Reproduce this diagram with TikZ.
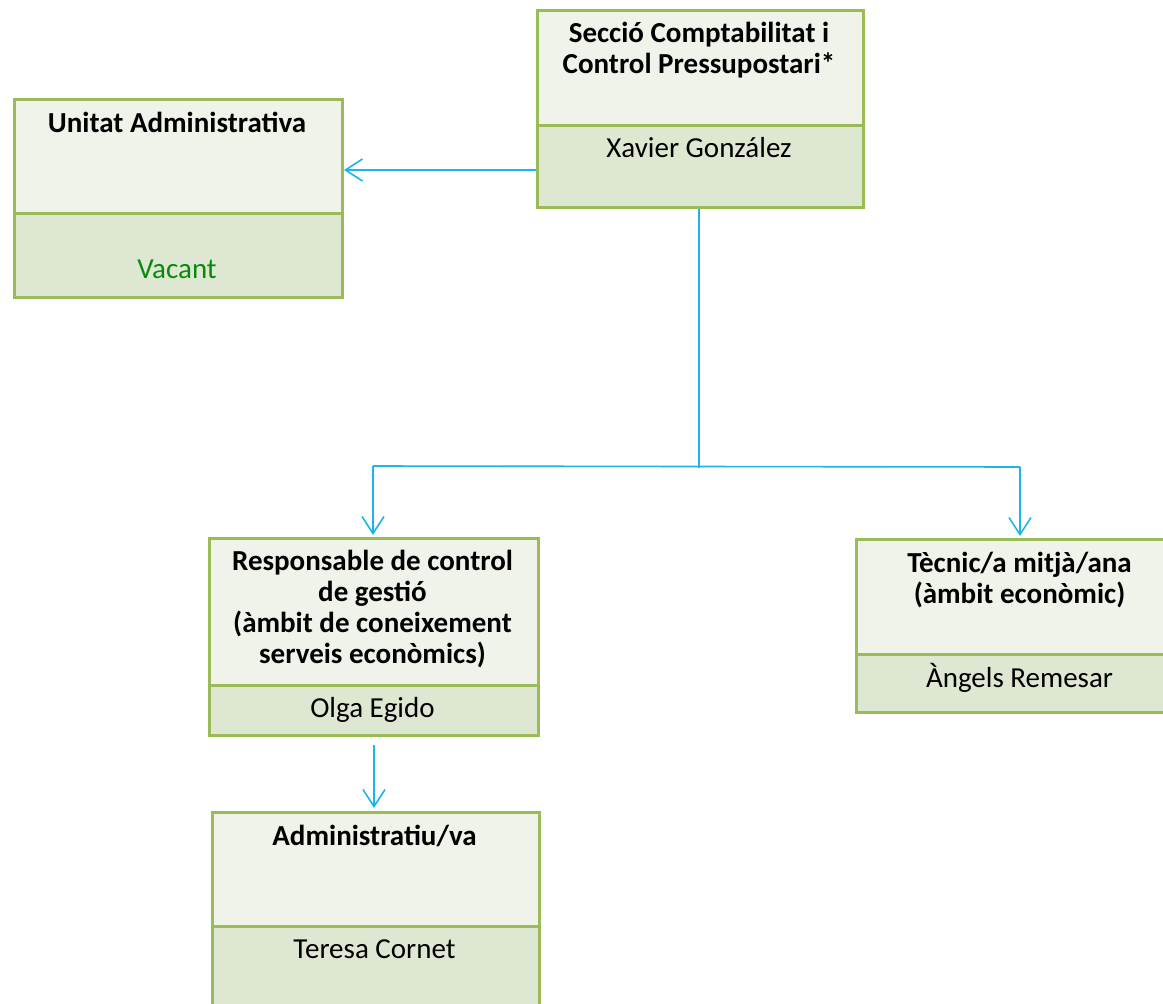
\documentclass[tikz,border=0pt]{standalone}
\usepackage{fontspec}
\setmainfont{Carlito}
\usetikzlibrary{arrows.meta}
\definecolor{boxline}{HTML}{9BBB59}
\definecolor{topfill}{HTML}{EFF3E9}
\definecolor{botfill}{HTML}{DDE7D1}
\definecolor{conn}{HTML}{1BB4F0}
\definecolor{vacgreen}{HTML}{0A8A0A}
\tikzset{
  boxpart/.style={draw=boxline, line width=3pt, inner sep=0pt, anchor=north west, minimum width=#1},
  toppart/.style={boxpart=#1, fill=topfill},
  botpart/.style={boxpart=#1, fill=botfill},
  titletext/.style={font=\fontsize{29}{30.5}\selectfont\bfseries, align=center, inner sep=0pt, anchor=base},
  persontext/.style={font=\fontsize{29}{31}\selectfont, inner sep=0pt, anchor=base},
  conline/.style={draw=conn, line width=1.6pt},
  conarrow/.style={conline, -{Straight Barb[length=17pt,width=22pt,line width=1.6pt]}}
}
\begin{document}
\begin{tikzpicture}[x=1pt,y=-1pt]
\useasboundingbox (0,0) rectangle (1163,1004);
\clip (0,0) rectangle (1163,1004);
% Box A
\node[botpart=326, minimum height=82] (Ab) at (536,124) {};
\node[toppart=326, minimum height=115] (A) at (536,9) {};
\node[titletext] (At) at (699,73) {Secció Comptabilitat i\\Control Pressupostari*};
\node[persontext] (An) at (699,157) {Xavier González};
% Box B
\node[botpart=328, minimum height=84] (Bb) at (13,212) {};
\node[toppart=328, minimum height=114] (B) at (13,98) {};
\node[titletext] (Bt) at (177,132) {Unitat Administrativa};
\node[persontext, text=vacgreen] (Bn) at (177,278) {Vacant};
% Box C
\node[botpart=329, minimum height=50] (Cb) at (208,684) {};
\node[toppart=329, minimum height=147] (C) at (208,537) {};
\node[titletext, font=\fontsize{29}{31}\selectfont\bfseries] (Ct) at (372.5,663) {Responsable de control\\de gestió\\(àmbit de coneixement\\serveis econòmics)};
\node[persontext] (Cn) at (372.5,717) {Olga Egido};
% Box D
\node[botpart=329, minimum height=58] (Db) at (855,653) {};
\node[toppart=329, minimum height=115] (D) at (855,538) {};
\node[titletext] (Dt) at (1019.5,603) {Tècnic/a mitjà/ana\\(àmbit econòmic)};
\node[persontext] (Dn) at (1019.5,687) {Àngels Remesar};
% Box E
\node[botpart=327, minimum height=120] (Eb) at (211,925) {};
\node[toppart=327, minimum height=114] (E) at (211,811) {};
\node[titletext] (Et) at (374.5,845) {Administratiu/va};
\node[persontext] (En) at (374.5,958) {Teresa Cornet};
% connectors
\coordinate (jn) at (699,468);
\coordinate (jl) at (373,466);
\coordinate (jr) at (1020,467);
\draw[conarrow] (Ab.west |- 0,170) -- (B.east |- 0,170);
\draw[conline] (Ab.south -| 699,0) -- (jn);
\draw[conline] (jl) -- (jr);
\draw[conarrow] (jl) -- ([yshift=2pt]C.north -| jl);
\draw[conarrow] (jr) -- ([yshift=2pt]D.north -| jr);
\draw[conarrow] ([yshift=-8pt]Cb.south -| 374,0) -- ([yshift=3pt]E.north -| 374,0);
\end{tikzpicture}
\end{document}
